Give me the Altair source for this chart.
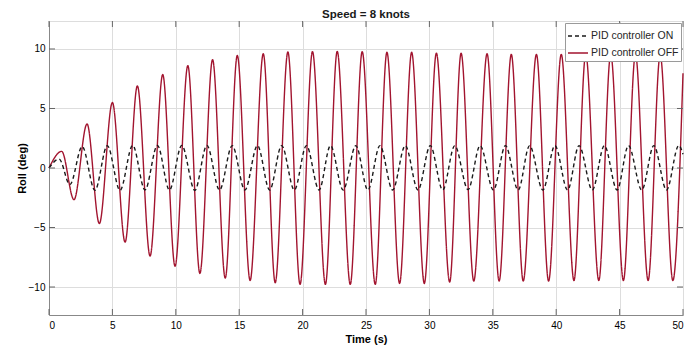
import altair as alt
import pandas as pd

# PID controller OFF (red): extrema
off_peak_t = [1.0, 3.0, 5.0, 6.97, 8.97, 10.95, 12.9, 14.85, 16.9, 18.84, 20.78, 22.73, 24.7,
              26.65, 28.6, 30.55, 32.5, 34.55, 36.46, 38.44, 40.4, 42.33, 44.3, 46.25, 48.2]
off_peak_v = [1.4, 3.7, 5.5, 6.9, 7.85, 8.6, 9.1, 9.45, 9.6, 9.75, 9.78, 9.8, 9.78,
              9.72, 9.72, 9.65, 9.64, 9.6, 9.55, 9.55, 9.55, 9.55, 9.55, 9.55, 9.5]
off_trough_t = [1.97, 3.97, 6.0, 7.97, 9.94, 11.9, 13.9, 15.86, 17.84, 19.8, 21.8, 23.76, 25.73,
                27.65, 29.6, 31.6, 33.5, 35.5, 37.4, 39.4, 41.4, 43.36, 45.3, 47.25, 49.2]
off_trough_v = [-2.66, -4.67, -6.23, -7.4, -8.25, -8.86, -9.25, -9.45, -9.64, -9.78, -9.78, -9.78, -9.78,
                -9.7, -9.7, -9.58, -9.5, -9.5, -9.5, -9.5, -9.45, -9.45, -9.45, -9.45, -9.45]
off_ends_t = [0.0, 50.0]
off_ends_v = [0.0, 7.96]

# PID controller ON (black dashed)
on_peak_t = [0.8, 2.62, 4.6, 6.6, 8.55, 10.47, 12.45, 14.45, 16.44, 18.35, 20.3, 22.2, 24.2, 26.1,
             28.1, 30.07, 32.0, 34.0, 36.0, 37.9, 39.9, 41.8, 43.8, 45.7, 47.7, 49.67]
on_peak_v = [0.75, 1.8, 1.88, 1.9, 1.9, 1.9, 1.9, 1.88, 1.88, 1.88, 1.88, 1.88, 1.88, 1.88,
             1.88, 1.88, 1.88, 1.88, 1.88, 1.88, 1.88, 1.88, 1.88, 1.88, 1.88, 1.9]
on_trough_t = [1.65, 3.62, 5.6, 7.57, 9.5, 11.5, 13.45, 15.45, 17.4, 19.35, 21.3, 23.2, 25.15,
               27.1, 29.1, 31.05, 33.05, 35.05, 37.0, 38.95, 40.9, 42.85, 44.8, 46.75, 48.7]
on_trough_v = [-1.4, -1.88, -1.88, -1.85, -1.85, -1.88, -1.85, -1.85, -1.85, -1.85, -1.85, -1.85, -1.85,
               -1.85, -1.85, -1.85, -1.82, -1.85, -1.85, -1.85, -1.85, -1.85, -1.85, -1.85, -1.85]
on_ends_t = [0.0, 50.0]
on_ends_v = [0.0, 1.15]

x_ticks = [0, 5, 10, 15, 20, 25, 30, 35, 40, 45, 50]
y_ticks = [-10, -5, 0, 5, 10]

S_ON = "PID controller ON"
S_OFF = "PID controller OFF"

def series(name, ts, vs):
    t = [x for arr in ts for x in arr]
    v = [x for arr in vs for x in arr]
    return pd.DataFrame({"t": t, "v": v, "s": name})

df = pd.concat([
    series(S_ON, [on_ends_t, on_peak_t, on_trough_t], [on_ends_v, on_peak_v, on_trough_v]),
    series(S_OFF, [off_ends_t, off_peak_t, off_trough_t], [off_ends_v, off_peak_v, off_trough_v]),
]).sort_values(["s", "t"]).reset_index(drop=True)

W, H = 634, 294
FONT = "Liberation Sans"
XDOM = [0, 50]
YDOM = [-12.35, 12.35]

xscale = alt.Scale(domain=XDOM, nice=False, zero=False)
yscale = alt.Scale(domain=YDOM, nice=False, zero=False)

lines = alt.Chart(df).mark_line(interpolate="monotone", strokeWidth=1.4).encode(
    x=alt.X("t:Q", scale=xscale,
            axis=alt.Axis(values=x_ticks, title="Time (s)", grid=True, ticks=False,
                          labelPadding=5, titlePadding=3)),
    y=alt.Y("v:Q", scale=yscale,
            axis=alt.Axis(values=y_ticks, title="Roll (deg)", grid=True, ticks=False,
                          labelPadding=4, titlePadding=1)),
    color=alt.Color("s:N", scale=alt.Scale(domain=[S_ON, S_OFF], range=["#1a1a1a", "#A2142F"]),
                    legend=alt.Legend(title=None, orient="top-right", offset=2,
                                      symbolType="stroke", symbolSize=400, symbolStrokeWidth=1.3,
                                      labelFontSize=10.5, labelColor="#262626", labelFont=FONT,
                                      strokeColor="#9a9a9a", fillColor="white", padding=2,
                                      rowPadding=-7, labelOffset=2)),
    strokeDash=alt.StrokeDash("s:N", scale=alt.Scale(domain=[S_ON, S_OFF], range=[[4, 3], [1, 0]]),
                              legend=None),
    order="t:Q",
)

xt = pd.DataFrame({"x": x_ticks})
yt = pd.DataFrame({"y": y_ticks})
tick_color = "#666666"
xtick_bottom = alt.Chart(xt).mark_rule(color=tick_color, strokeWidth=1).encode(
    x=alt.X("x:Q", scale=xscale), y=alt.value(H - 6), y2=alt.value(H))
xtick_top = alt.Chart(xt).mark_rule(color=tick_color, strokeWidth=1).encode(
    x=alt.X("x:Q", scale=xscale), y=alt.value(0), y2=alt.value(6))
ytick_left = alt.Chart(yt).mark_rule(color=tick_color, strokeWidth=1).encode(
    y=alt.Y("y:Q", scale=yscale), x=alt.value(0), x2=alt.value(6))
ytick_right = alt.Chart(yt).mark_rule(color=tick_color, strokeWidth=1).encode(
    y=alt.Y("y:Q", scale=yscale), x=alt.value(W - 6), x2=alt.value(W))

chart = alt.layer(lines, xtick_bottom, xtick_top, ytick_left, ytick_right).properties(
    width=W, height=H,
    title=alt.TitleParams("Speed = 8 knots", font=FONT, fontSize=11.5, fontWeight="bold",
                          color="#1a1a1a", offset=0),
    autosize=alt.AutoSizeParams(type="none"),
    padding={"left": 41, "top": 13, "right": 5, "bottom": 40},
).configure_axis(
    labelFont=FONT, labelFontSize=11, labelColor="#4d4d4d",
    titleFont=FONT, titleFontSize=13.5, titleFontWeight="bold", titleColor="#1a1a1a",
    gridColor="#e2e2e2", gridWidth=1,
    domainColor="#8c8c8c", domainWidth=1,
).configure_view(
    stroke="#8c8c8c", strokeWidth=1,
).configure(background="white")

chart.save("out.html", embed_options={"renderer": "svg", "actions": False})
